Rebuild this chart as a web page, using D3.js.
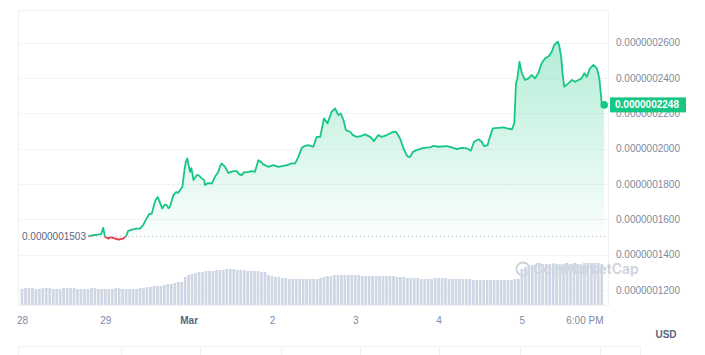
<!DOCTYPE html>
<html>
<head>
<meta charset="utf-8">
<script src="https://cdn.jsdelivr.net/npm/d3@7"></script>
<style>
  body { margin: 0; background: #fff; font-family: "Liberation Sans", Arial, sans-serif; }
</style>
</head>
<body>
<div id="chart-area"></div>
<script>

// price readings: hours after 28 Feb 00:00 UTC, price in 1e-10 USD
var hours = [19.1, 20.5, 21.9, 22.8, 23.4, 23.9, 24.8, 25.6, 26.8, 27.9,
	29.1, 30.0, 30.6, 31.7, 32.8, 34.0, 34.9, 35.9, 36.6, 37.4,
	38.0, 38.5, 39.1, 39.8, 40.4, 41.1, 41.7, 42.2, 42.6, 43.6,
	44.4, 45.0, 46.2, 46.8, 47.2, 47.6, 48.4, 48.8, 49.4, 50.3,
	50.8, 51.8, 52.5, 52.7, 53.6, 54.7, 55.6, 56.5, 57.0, 57.5,
	58.5, 59.4, 60.9, 61.9, 62.5, 63.3, 64.0, 64.7, 66.2, 67.1,
	68.1, 68.9, 69.5, 71.0, 72.4, 73.8, 75.3, 76.3, 77.7, 78.7,
	79.6, 80.6, 81.5, 82.5, 83.3, 83.9, 84.9, 85.9, 87.0, 88.0,
	89.2, 90.2, 91.1, 91.8, 92.6, 93.3, 94.5, 95.3, 96.4, 97.9,
	98.8, 100.3, 101.4, 102.6, 103.6, 105.1, 106.5, 107.7, 108.9, 109.9,
	110.8, 111.3, 111.8, 112.6, 113.7, 115.2, 116.4, 117.5, 118.5, 119.9,
	122.4, 123.8, 125.2, 126.7, 128.1, 129.3, 130.2, 131.5, 132.4, 133.1,
	134.1, 134.8, 135.6, 137.2, 138.7, 139.8, 141.1, 141.8, 142.3, 142.7,
	143.3, 144.0, 144.9, 145.9, 146.8, 147.8, 148.7, 149.7, 150.7, 151.8,
	152.6, 153.3, 154.3, 154.7, 155.3, 155.7, 156.2, 157.4, 158.4, 159.3,
	160.3, 161.2, 162.0, 162.7, 163.6, 164.6, 165.6, 166.3, 167.0, 167.7];

var prices = [1503, 1510, 1513, 1516, 1552, 1502, 1491, 1499, 1491, 1485,
	1491, 1505, 1535, 1542, 1547, 1548, 1567, 1605, 1629, 1633,
	1680, 1709, 1727, 1692, 1662, 1683, 1680, 1663, 1671, 1737,
	1754, 1750, 1784, 1879, 1926, 1945, 1869, 1890, 1822, 1850,
	1850, 1832, 1822, 1794, 1805, 1803, 1841, 1867, 1897, 1917,
	1897, 1863, 1873, 1873, 1856, 1850, 1867, 1866, 1873, 1869,
	1935, 1924, 1911, 1897, 1907, 1897, 1903, 1907, 1917, 1917,
	1954, 2005, 2016, 2020, 2015, 2011, 2067, 2067, 2172, 2143,
	2209, 2228, 2190, 2200, 2162, 2105, 2096, 2077, 2067, 2073,
	2081, 2067, 2043, 2077, 2067, 2077, 2092, 2096, 2058, 2002,
	1964, 1954, 1954, 1982, 1992, 2002, 2006, 2007, 2016, 2011,
	2015, 2007, 1998, 2005, 2002, 1988, 2039, 2053, 2039, 2015,
	2020, 2067, 2115, 2118, 2121, 2115, 2109, 2143, 2370, 2398,
	2492, 2427, 2389, 2398, 2417, 2398, 2427, 2483, 2512, 2525,
	2549, 2587, 2606, 2587, 2521, 2427, 2351, 2370, 2389, 2379,
	2389, 2398, 2427, 2407, 2455, 2474, 2455, 2398, 2257, 2248];

// hourly volume bars (relative units)
var volumes = [16, 17, 17, 17, 16, 16, 17, 17, 17, 16, 16, 16, 17, 17, 17, 17, 16, 16, 16, 16,
	17, 17, 16, 16, 16, 16, 16, 17, 17, 16, 16, 16, 16, 16, 17,
	17, 18, 18, 19, 19, 19,
	20, 21, 21, 22, 23, 23,
	28, 30, 31,
	32, 33, 33, 34, 34, 34, 35, 35, 35, 36, 36, 36, 35, 35, 35, 34, 34, 34, 34, 33, 33,
	30, 29, 28, 28,
	27, 27, 26, 26, 26, 26, 26, 26, 26, 26, 26, 27,
	28, 29, 29,
	30, 30, 30, 30, 30, 30, 30, 30, 29, 29, 29, 29, 29, 29, 29, 29, 29, 29, 28, 28, 28,
	27, 27, 27, 27, 26, 26, 26, 26, 27, 27, 27, 27, 26, 26, 26, 26, 26, 26, 26, 25,
	25, 25, 25, 25, 25, 25, 25, 25, 25, 25, 25, 26, 26,
	36, 38, 39,
	40, 40, 40, 41, 41, 41, 41, 41, 41, 41, 41, 41, 41, 41, 41, 42, 42, 42, 42, 42, 41];

var yTicks = [1200, 1400, 1600, 1800, 2000, 2200, 2400, 2600];
var xTickHours = [0, 24, 48, 72, 96, 120, 144, 162];
var xTickLabels = ["28", "29", "Mar", "2", "3", "4", "5", "6:00 PM"];

var openPrice = 1503;
var lastPrice = 2248;

var green = "#16c784";
var red = "#ea3943";

var t0 = Date.UTC(2024, 1, 28);
function toDate(h) { return new Date(t0 + h * 3600e3); }

var svg = d3.select("#chart-area").append("svg")
	.attr("width", 705)
	.attr("height", 355);

// scales
var x = d3.scaleUtc()
	.domain([toDate(-1.15), toDate(168.8)])
	.range([18, 608]);

var y = d3.scaleLinear()
	.domain([1200, 2600])
	.range([290, 42.7]);

var yVol = d3.scaleLinear()
	.domain([0, 42])
	.range([305, 263]);

var baseY = y(openPrice);

// frame + grid
svg.append("rect")
	.attr("x", 18.5).attr("y", 10.5)
	.attr("width", 590).attr("height", 295)
	.attr("fill", "none")
	.attr("stroke", "#eff2f5");

svg.append("g")
	.selectAll("line")
	.data(yTicks)
	.enter().append("line")
	.attr("x1", 18).attr("x2", 608)
	.attr("y1", d => Math.round(y(d)) + 0.5)
	.attr("y2", d => Math.round(y(d)) + 0.5)
	.attr("stroke", "#f3f4f6");

// watermark
var wm = svg.append("g").attr("opacity", 0.55);
wm.append("circle")
	.attr("cx", 523).attr("cy", 269)
	.attr("r", 6.5)
	.attr("fill", "none")
	.attr("stroke", "#a6b0c3")
	.attr("stroke-width", 2);
wm.append("text")
	.attr("x", 533).attr("y", 274)
	.attr("font-family", "Inter, sans-serif")
	.attr("font-size", "14px")
	.attr("font-weight", 600)
	.attr("fill", "#a6b0c3")
	.text("CoinMarketCap");

// volume bars
svg.append("g")
	.selectAll("rect")
	.data(volumes)
	.enter().append("rect")
	.attr("x", (d, i) => x(toDate(i)) - 1.35)
	.attr("width", 2.7)
	.attr("y", d => yVol(d))
	.attr("height", d => yVol(0) - yVol(d))
	.attr("fill", "#cfd6e4");

// price series
var series = hours.map((h, i) => ({ date: toDate(h), price: prices[i] }));

var defs = svg.append("defs");
var grad = defs.append("linearGradient")
	.attr("id", "upFill")
	.attr("gradientUnits", "userSpaceOnUse")
	.attr("x1", 0).attr("x2", 0)
	.attr("y1", y(2600)).attr("y2", baseY);
grad.append("stop").attr("offset", 0).attr("stop-color", green).attr("stop-opacity", 0.32);
grad.append("stop").attr("offset", 1).attr("stop-color", green).attr("stop-opacity", 0.02);

defs.append("clipPath").attr("id", "above")
	.append("rect").attr("x", 0).attr("y", 0).attr("width", 705).attr("height", baseY);
defs.append("clipPath").attr("id", "below")
	.append("rect").attr("x", 0).attr("y", baseY).attr("width", 705).attr("height", 355 - baseY);

var area = d3.area()
	.x(d => x(d.date))
	.y0(baseY)
	.y1(d => y(d.price));

var line = d3.line()
	.x(d => x(d.date))
	.y(d => y(d.price));

svg.append("path")
	.datum(series)
	.attr("clip-path", "url(#above)")
	.attr("fill", "url(#upFill)")
	.attr("d", area);

svg.append("path")
	.datum(series)
	.attr("clip-path", "url(#below)")
	.attr("fill", red)
	.attr("fill-opacity", 0.08)
	.attr("d", area);

// dotted open-price line
svg.append("line")
	.attr("x1", 88).attr("x2", 608)
	.attr("y1", Math.round(baseY) + 0.5).attr("y2", Math.round(baseY) + 0.5)
	.attr("stroke", "#b8c0cc")
	.attr("stroke-dasharray", "1,3");

svg.append("path")
	.datum(series)
	.attr("clip-path", "url(#above)")
	.attr("fill", "none")
	.attr("stroke", green)
	.attr("stroke-width", 1.8)
	.attr("stroke-linejoin", "round")
	.attr("d", line);

svg.append("path")
	.datum(series)
	.attr("clip-path", "url(#below)")
	.attr("fill", "none")
	.attr("stroke", red)
	.attr("stroke-width", 1.8)
	.attr("stroke-linejoin", "round")
	.attr("d", line);

var last = series[series.length - 1];
svg.append("circle")
	.attr("cx", x(last.date))
	.attr("cy", y(last.price))
	.attr("r", 3.8)
	.attr("fill", green);

// open price label
svg.append("text")
	.attr("x", 22).attr("y", baseY)
	.attr("dy", "0.35em")
	.attr("font-size", "10px")
	.attr("fill", "#58667e")
	.text((openPrice * 1e-10).toFixed(10));

// x axis
var xAxisCall = d3.axisBottom(x)
	.tickValues(xTickHours.map(toDate))
	.tickSize(0)
	.tickPadding(12)
	.tickFormat((d, i) => xTickLabels[i]);

var xAxis = svg.append("g")
	.attr("class", "x-axis")
	.attr("transform", "translate(0,305)")
	.call(xAxisCall);
xAxis.select(".domain").remove();
xAxis.selectAll("text")
	.attr("font-family", "Liberation Sans, Arial, sans-serif")
	.attr("font-size", "10px")
	.attr("fill", "#808a9d")
	.attr("font-weight", (d, i) => xTickLabels[i] == "Mar" ? "bold" : "normal")
	.attr("fill", (d, i) => xTickLabels[i] == "Mar" ? "#58667e" : "#808a9d");

// y axis labels on the right
svg.append("g")
	.attr("class", "y-axis")
	.selectAll("text")
	.data(yTicks)
	.enter().append("text")
	.attr("x", 616)
	.attr("y", d => y(d))
	.attr("dy", "0.35em")
	.attr("font-size", "10px")
	.attr("fill", "#808a9d")
	.text(d => (d * 1e-10).toFixed(10));

// current price tag
svg.append("rect")
	.attr("x", 610).attr("y", y(lastPrice) - 7.5)
	.attr("width", 76).attr("height", 15)
	.attr("fill", green);
svg.append("text")
	.attr("x", 615).attr("y", y(lastPrice))
	.attr("dy", "0.35em")
	.attr("font-size", "10px")
	.attr("font-weight", "bold")
	.attr("fill", "#fff")
	.text((lastPrice * 1e-10).toFixed(10));

svg.append("text")
	.attr("x", 666).attr("y", 334)
	.attr("dy", "0.35em")
	.attr("text-anchor", "middle")
	.attr("font-size", "10px")
	.attr("font-weight", "bold")
	.attr("fill", "#58667e")
	.text("USD");

// range navigator strip (cut off at the bottom)
svg.append("rect")
	.attr("x", 18.5).attr("y", 346.5)
	.attr("width", 622).attr("height", 20)
	.attr("fill", "none")
	.attr("stroke", "#eff2f5");
svg.append("g")
	.selectAll("line")
	.data([121, 200, 281, 360, 439, 520, 600])
	.enter().append("line")
	.attr("x1", d => d + 0.5).attr("x2", d => d + 0.5)
	.attr("y1", 347).attr("y2", 355)
	.attr("stroke", "#eff2f5");

</script>
</body>
</html>
